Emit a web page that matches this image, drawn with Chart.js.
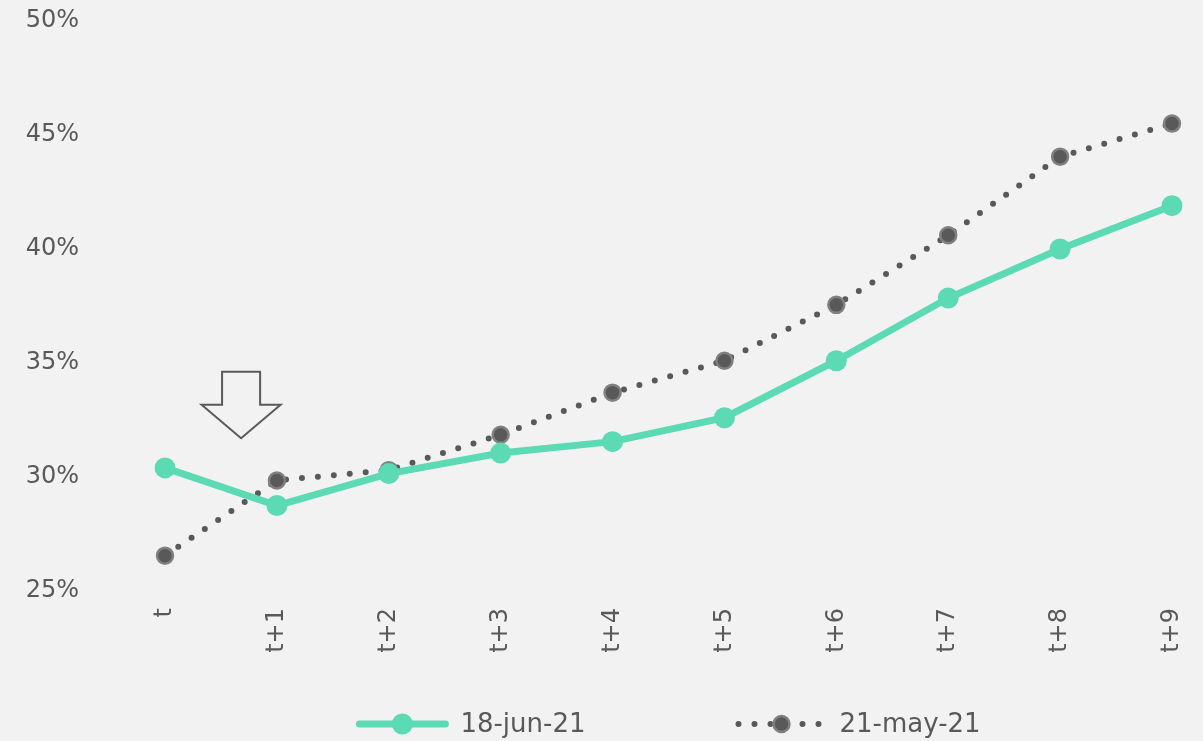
<!DOCTYPE html>
<html><head><meta charset="utf-8">
<script src="https://cdn.jsdelivr.net/npm/chart.js@4/dist/chart.umd.min.js"></script>
<style>html,body{margin:0;padding:0;background:#f2f2f2;overflow:hidden}#wrap{width:1203px;height:741px}</style>
</head><body><div id="wrap"><canvas id="c" width="1203" height="741"></canvas></div>
<script>
const categories = ['t','t+1','t+2','t+3','t+4','t+5','t+6','t+7','t+8','t+9'];
const seriesJun = [30.4, 28.75, 30.15, 31.05, 31.55, 32.6, 35.1, 37.85, 40.0, 41.9];
const seriesMay = [26.55, 29.85, 30.3, 31.85, 33.7, 35.1, 37.55, 40.6, 44.05, 45.5];
const seriesNames = ['18-jun-21', '21-may-21'];
const yTicks = [25, 30, 35, 40, 45, 50];

const GREEN = '#5cdab4';
const GRAY = '#595959';
const TEXT = '#595959';
const arrowNote = { xIndex: 0.68, tip: 31.7, top: 34.62, shoulder: 33.17, headHalf: 0.353, shaftHalf: 0.17 };

const arrowPlugin = {
  id: 'arrowNote',
  afterDatasetsDraw(chart) {
    const x = chart.scales.x, y = chart.scales.y, ctx = chart.ctx;
    const cx = x.getPixelForValue(arrowNote.xIndex);
    const hw = x.getPixelForValue(arrowNote.xIndex + arrowNote.headHalf) - cx;
    const sw = x.getPixelForValue(arrowNote.xIndex + arrowNote.shaftHalf) - cx;
    const yt = y.getPixelForValue(arrowNote.top), ys = y.getPixelForValue(arrowNote.shoulder), yp = y.getPixelForValue(arrowNote.tip);
    ctx.save();
    ctx.beginPath();
    ctx.moveTo(cx - sw, yt); ctx.lineTo(cx + sw, yt); ctx.lineTo(cx + sw, ys); ctx.lineTo(cx + hw, ys);
    ctx.lineTo(cx, yp); ctx.lineTo(cx - hw, ys); ctx.lineTo(cx - sw, ys); ctx.closePath();
    ctx.fillStyle = '#f2f2f2'; ctx.fill();
    ctx.strokeStyle = GRAY; ctx.lineWidth = 2; ctx.lineJoin = 'miter'; ctx.stroke();
    ctx.restore();
  }
};

const legendPlugin = {
  id: 'customLegend',
  afterDraw(chart) {
    const ctx = chart.ctx, area = chart.chartArea;
    ctx.save();
    ctx.font = '26px "DejaVu Sans", sans-serif';
    const sampleW = 92, textGap = 12, itemGap = 150;
    const items = chart.data.datasets.map(ds => ({ ds, tw: ctx.measureText(ds.label).width }));
    const total = items.reduce((s, it) => s + sampleW + textGap + it.tw, 0) + itemGap * (items.length - 1);
    let x = (area.left + area.right) / 2 - total / 2;
    const y = 724;
    items.forEach(it => {
      const ds = it.ds;
      ctx.save();
      ctx.strokeStyle = ds.borderColor; ctx.lineWidth = ds.borderWidth;
      ctx.lineCap = ds.borderCapStyle || 'butt';
      ctx.setLineDash(ds.borderDash || []);
      ctx.beginPath(); ctx.moveTo(x + 3, y); ctx.lineTo(x + sampleW - 3, y); ctx.stroke();
      ctx.setLineDash([]);
      ctx.beginPath(); ctx.arc(x + sampleW / 2, y, ds.pointRadius, 0, Math.PI * 2);
      ctx.fillStyle = ds.pointBackgroundColor; ctx.fill();
      if (ds.pointBorderWidth) { ctx.lineWidth = ds.pointBorderWidth; ctx.strokeStyle = ds.pointBorderColor; ctx.stroke(); }
      ctx.restore();
      ctx.fillStyle = TEXT; ctx.textBaseline = 'middle'; ctx.textAlign = 'left';
      ctx.fillText(ds.label, x + sampleW + textGap, y + 1);
      x += sampleW + textGap + it.tw + itemGap;
    });
    ctx.restore();
  }
};

new Chart(document.getElementById('c'), {
  type: 'line',
  data: {
    labels: categories,
    datasets: [
      { label: seriesNames[0], data: seriesJun, borderColor: GREEN, backgroundColor: GREEN, borderWidth: 7,
        pointRadius: 10.5, pointBackgroundColor: GREEN, pointBorderColor: GREEN, pointBorderWidth: 0, tension: 0, borderCapStyle: 'round' },
      { label: seriesNames[1], data: seriesMay, borderColor: GRAY, backgroundColor: GRAY, borderWidth: 6,
        borderDash: [0, 16], borderCapStyle: 'round',
        pointRadius: 8, pointBackgroundColor: GRAY, pointBorderColor: '#808080', pointBorderWidth: 2.5, tension: 0 }
    ]
  },
  options: {
    responsive: false, animation: false, devicePixelRatio: 1,
    layout: { padding: { left: 0, right: 31, top: 0, bottom: 70 } },
    plugins: { legend: { display: false }, tooltip: { enabled: false } },
    scales: {
      x: {
        offset: false,
        grid: { display: false, drawTicks: false }, border: { display: false },
        ticks: { color: TEXT, font: { family: '"DejaVu Sans", sans-serif', size: 24 }, minRotation: 90, maxRotation: 90, padding: 17, autoSkip: false },
        afterFit(s) { s.height = 80; s.paddingLeft = 0; s.paddingRight = 0; }
      },
      y: {
        min: 25, max: 50,
        grid: { display: false, drawTicks: false }, border: { display: false },
        afterBuildTicks(s) { s.ticks = yTicks.map(v => ({ value: v })); },
        ticks: { color: TEXT, font: { family: '"DejaVu Sans", sans-serif', size: 24 }, padding: 86, callback: v => v + '%' },
        afterFit(s) { s.width = 165; s.paddingTop = 21; s.paddingBottom = 14; }
      }
    }
  },
  plugins: [arrowPlugin, legendPlugin]
});
</script></body></html>
